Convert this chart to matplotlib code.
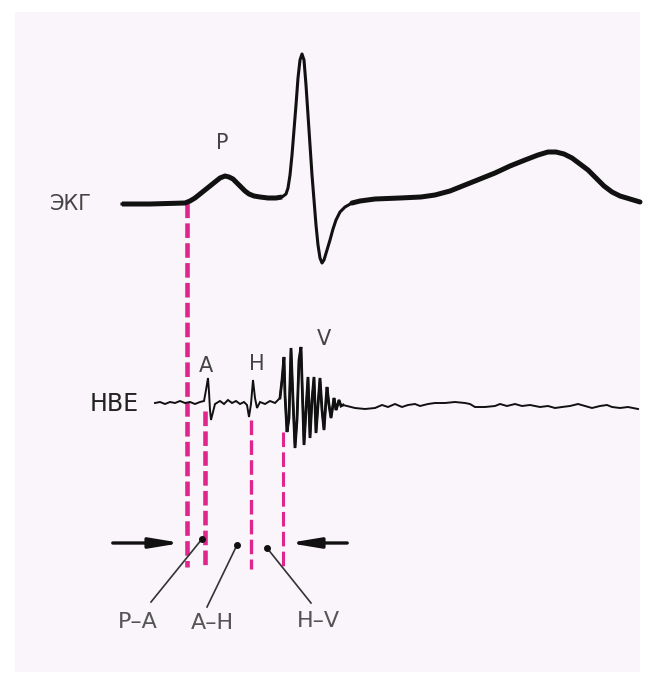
import matplotlib
matplotlib.use("Agg")
import matplotlib.pyplot as plt
from matplotlib.patches import Rectangle

# surface ECG trace (x = time position, y = level, image units, y grows downward)
ecg_t = [122, 150, 185, 190, 195, 200, 205, 210, 215, 220, 225, 229, 233, 237, 241,
         245, 249, 254, 260, 268, 276, 282, 286, 288, 290, 292, 294, 296, 298, 300,
         302, 304, 306, 308, 310, 312, 314, 316, 318, 320, 322, 324, 327, 330, 333,
         336, 340, 345, 352, 360, 375, 400, 421, 435, 450, 465, 480, 495, 510, 525,
         538, 548, 556, 564, 572, 580, 588, 596, 604, 612, 620, 630, 640]
ecg_v = [204, 204, 203, 201, 198, 194, 190, 186, 182, 178, 176, 177, 179, 183, 187,
         191, 194, 196, 197, 198, 198, 197, 194, 188, 175, 155, 130, 105, 78, 60,
         54, 60, 85, 115, 145, 175, 200, 225, 245, 258, 263, 260, 250, 240, 229,
         220, 212, 207, 203, 201, 199, 198, 197, 195, 191, 185, 179, 173, 166, 160,
         155, 152, 152, 154, 158, 164, 170, 178, 186, 192, 196, 199, 202]
qrs_start, qrs_end = 21, 48   # indices where the trace is drawn thin

# His bundle electrogram
hbe_t = [155, 160, 165, 170, 175, 180, 185, 190, 195, 200, 204, 206, 208, 209, 210,
         211, 213, 215, 220, 224, 228, 232, 236, 240, 244, 247, 249, 251, 253, 255,
         257, 260, 265, 270, 275, 280, 282, 284, 285, 287, 289, 291, 293, 295, 297,
         299, 301, 302, 304, 306, 308, 310, 312, 314, 316, 318, 320, 322, 324, 326,
         327, 329, 331, 333, 334, 336, 337, 339, 341, 343,
         355, 365, 375, 382, 388, 395, 402, 408, 415, 420, 428, 435, 445, 455, 465,
         470, 475, 485, 495, 500, 507, 515, 522, 530, 540, 548, 555, 562, 570, 578,
         585, 592, 600, 607, 612, 620, 628, 638]
hbe_v = [403, 402, 404, 402, 403, 401, 403, 402, 404, 402, 401, 390, 378, 392, 410,
         420, 412, 404, 401, 404, 400, 403, 401, 404, 402, 405, 417, 404, 380, 398,
         408, 402, 404, 401, 403, 398, 380, 357, 395, 432, 418, 348, 400, 448, 420,
         360, 347, 380, 445, 410, 377, 438, 400, 377, 433, 405, 378, 410, 430, 400,
         387, 405, 418, 405, 398, 410, 407, 400, 406, 405,
         408, 409, 408, 405, 407, 404, 407, 405, 404, 406, 404, 403, 403, 402, 403,
         404, 407, 407, 406, 404, 406, 404, 406, 405, 407, 406, 408, 407, 406, 404,
         406, 408, 406, 405, 407, 408, 407, 409]
v_start, v_end = 35, 70       # indices of the V complex

# dashed markers: x, top, bottom, width
mark_x = [187, 205, 251, 283]
mark_top = [203, 411, 420, 432]
mark_bot = [567, 566, 569, 570]
mark_lw = [3.3, 3.3, 2.4, 2.2]

wave_labels = ["P", "A", "H", "V"]
wave_lx = [222, 206, 257, 324]
wave_ly = [143, 366, 364, 339]

int_labels = ["P\u2013A", "A\u2013H", "H\u2013V"]
int_lx = [138, 212, 318]
int_ly = [622, 623, 621]
dot_x = [202, 237, 267]
dot_y = [539, 545, 548]
lead_x = [151, 207, 311]
lead_y = [602, 607, 603]

mag = "#e0268c"
ink = "#111111"
grey = "#444444"

fig = plt.figure(figsize=(6.54, 6.78), dpi=100)
fig.patch.set_facecolor("white")
ax = fig.add_axes([0, 0, 1, 1])
ax.set_xlim(0, 654)
ax.set_ylim(678, 0)
ax.axis("off")

ax.add_patch(Rectangle((15, 12), 625, 660, facecolor="#faf5fa", edgecolor="none", zorder=0))

for x, t, b, w in zip(mark_x, mark_top, mark_bot, mark_lw):
    ax.plot([x, x], [t, b], color=mag, lw=w, dashes=(10.5 / w, 3.8 / w), zorder=2)

# ECG: thick baseline parts, thinner QRS
ax.plot(ecg_t, ecg_v, color=ink, lw=2.2, solid_joinstyle="round", zorder=3)
ax.plot(ecg_t[:qrs_start + 1], ecg_v[:qrs_start + 1], color=ink, lw=3.6,
        solid_joinstyle="round", solid_capstyle="butt", zorder=3)
ax.plot(ecg_t[qrs_end:], ecg_v[qrs_end:], color=ink, lw=3.6,
        solid_joinstyle="round", solid_capstyle="round", zorder=3)

ax.plot(hbe_t, hbe_v, color=ink, lw=1.4, solid_joinstyle="miter", zorder=3)
ax.plot(hbe_t[v_start:v_end], hbe_v[v_start:v_end], color=ink, lw=2.0,
        solid_joinstyle="miter", zorder=3)

# arrows pointing at interval bracket
ax.annotate("", xy=(184, 543), xytext=(110, 543),
            arrowprops=dict(arrowstyle="-|>,head_length=1.8,head_width=0.3", color=ink, lw=2.4))
ax.annotate("", xy=(286, 543), xytext=(350, 543),
            arrowprops=dict(arrowstyle="-|>,head_length=1.8,head_width=0.3", color=ink, lw=2.4))

for dx, dy, lx, ly in zip(dot_x, dot_y, lead_x, lead_y):
    ax.plot([dx, lx], [dy, ly], color="#333333", lw=1.2, zorder=3)
    ax.plot(dx, dy, "o", color=ink, ms=4, zorder=4)

for s, x, y in zip(wave_labels, wave_lx, wave_ly):
    ax.text(x, y, s, fontsize=15, color=grey, ha="center", va="center")
for s, x, y in zip(int_labels, int_lx, int_ly):
    ax.text(x, y, s, fontsize=16, color="#555555", ha="center", va="center")

ax.text(50, 204, "ЭКГ", fontsize=15, color=grey, ha="left", va="center")
ax.text(90, 404, "HBE", fontsize=17, color="#222222", ha="left", va="center")

fig.savefig("out.png", dpi=100, facecolor="white")
